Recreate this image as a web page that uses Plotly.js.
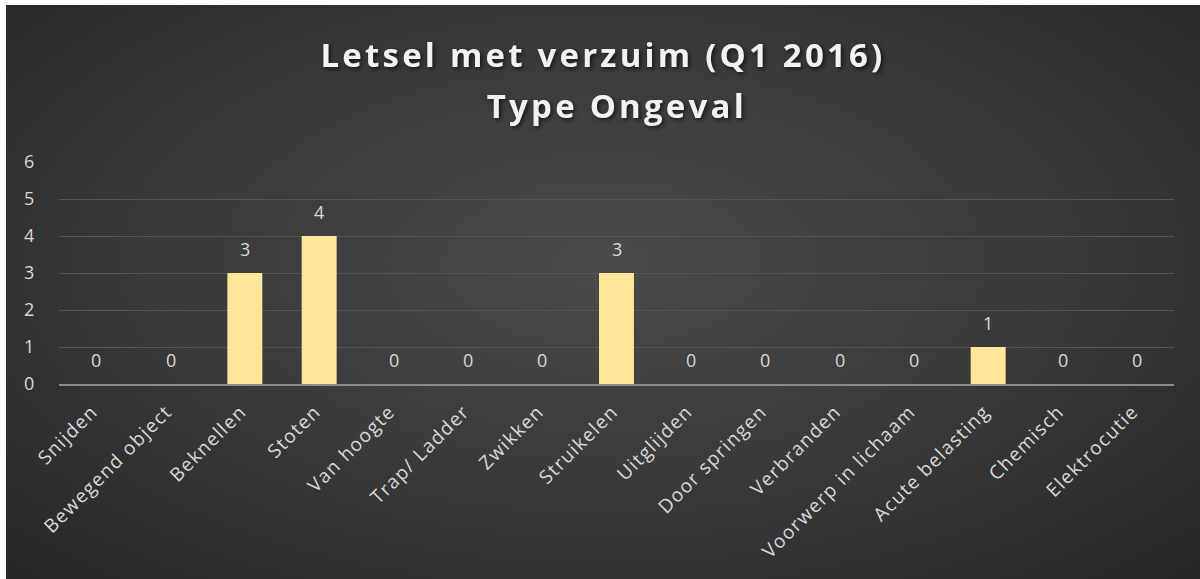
<!DOCTYPE html>
<html>
<head>
<meta charset="utf-8">
<script src="https://cdn.plot.ly/plotly-3.0.1.min.js"></script>
<style>
  html, body { margin: 0; padding: 0; background: #ffffff; width: 1200px; height: 579px; overflow: hidden; }
  #chart {
    position: absolute; left: 6px; top: 5px; width: 1194px; height: 574px;
    background: radial-gradient(ellipse 70% 75% at 50% 45%, #4b4b4b 0%, #3a3a3a 50%, #272727 100%);
  }
  #chart .gtitle, #chart .annotation.title2 text { letter-spacing: 3.2px; filter: drop-shadow(2px 2px 2px rgba(0,0,0,0.6)); }
  #chart .xtick text { letter-spacing: 1.3px; }
</style>
</head>
<body>
<div id="chart"></div>
<script>
const categories = ["Snijden", "Bewegend object", "Beknellen", "Stoten", "Van hoogte", "Trap/ Ladder", "Zwikken", "Struikelen", "Uitglijden", "Door springen", "Verbranden", "Voorwerp in lichaam", "Acute belasting", "Chemisch", "Elektrocutie"];
const values = [0, 0, 3, 4, 0, 0, 0, 3, 0, 0, 0, 0, 1, 0, 0];
const yTicks = [0, 1, 2, 3, 4, 5, 6];
const titleLine1 = "Letsel met verzuim (Q1 2016)";
const titleLine2 = "Type Ongeval";

const trace = {
  type: "bar",
  x: categories,
  y: values,
  marker: { color: "#ffe699" },
  hoverinfo: "x+y"
};

const labelFont = { family: "Open Sans, sans-serif", size: 18, color: "#d9d9d9" };
const dataLabels = categories.map((c, i) => ({
  x: c, y: values[i], xref: "x", yref: "y",
  text: String(values[i]), showarrow: false,
  yanchor: "middle", yshift: 24, font: labelFont
}));

const titleFont = { family: "Open Sans, sans-serif", size: 33, color: "#f2f2f2", weight: "bold" };

const layout = {
  width: 1194,
  height: 574,
  paper_bgcolor: "rgba(0,0,0,0)",
  plot_bgcolor: "rgba(0,0,0,0)",
  margin: { l: 53, r: 26, t: 157, b: 195 },
  bargap: 0.53,
  showlegend: false,
  title: {
    text: titleLine1,
    x: 0.5,
    xanchor: "center",
    y: 1 - 50 / 574,
    yanchor: "middle",
    font: titleFont
  },
  annotations: dataLabels.concat([{
    text: titleLine2, xref: "paper", yref: "paper",
    x: 0.5, y: (379 - 100) / 222, xanchor: "center", yanchor: "middle",
    showarrow: false, font: titleFont, captureevents: false
  }]),
  xaxis: {
    type: "category",
    tickangle: -45,
    tickfont: { family: "Open Sans, sans-serif", size: 19, color: "#d9d9d9" },
    showgrid: false,
    showline: true,
    linecolor: "#8c8c8c",
    linewidth: 2,
    ticks: "outside",
    ticklen: 7,
    tickcolor: "rgba(0,0,0,0)",
    ticklabelshift: -4,
    zeroline: false
  },
  yaxis: {
    range: [0, 6],
    tickvals: yTicks,
    ticktext: yTicks.map(String),
    tickfont: { family: "Open Sans, sans-serif", size: 18, color: "#d9d9d9" },
    showgrid: true,
    gridcolor: "#555555",
    gridwidth: 1,
    zeroline: false,
    showline: false,
    ticks: "outside",
    ticklen: 20,
    tickcolor: "rgba(0,0,0,0)"
  }
};

Plotly.newPlot("chart", [trace], layout, { displayModeBar: false, staticPlot: true }).then(() => {
  const anns = document.querySelectorAll("#chart .annotation");
  const last = anns[anns.length - 1];
  if (last) last.classList.add("title2");
});
</script>
</body>
</html>
